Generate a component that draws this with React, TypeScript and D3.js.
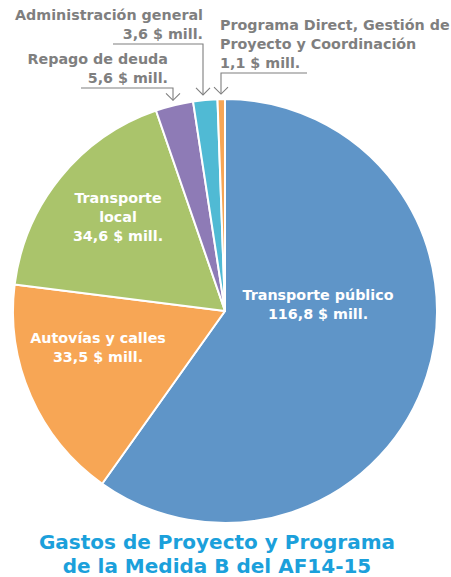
import React from "react";
import * as d3 from "d3";

const categories = [
  "Transporte público",
  "Autovías y calles",
  "Transporte local",
  "Repago de deuda",
  "Administración general",
  "Programa Direct, Gestión de Proyecto y Coordinación",
];
const values = [116.8, 33.5, 34.6, 5.6, 3.6, 1.1];
const valueLabels = ["116,8 $ mill.", "33,5 $ mill.", "34,6 $ mill.", "5,6 $ mill.", "3,6 $ mill.", "1,1 $ mill."];
const colors = ["#5F95C8", "#F7A655", "#AAC46B", "#8E7BB6", "#50BAD4", "#F7A655"];
const titleLines = ["Gastos de Proyecto y Programa", "de la Medida B del AF14-15"];

const W = 451;
const H = 577;
const cx = 225;
const cy = 311;
const R = 212;
const FONT = "'DejaVu Sans', sans-serif";
const GRAY = "#7F7F7F";

export default function App() {
  const data = categories.map((c, i) => ({ cat: c, value: values[i], label: valueLabels[i], color: colors[i] }));
  const pie = d3.pie<any>().sort(null).value((d: any) => d.value);
  const arcs = pie(data);
  const arcGen = d3.arc<any>().innerRadius(0).outerRadius(R);

  const polar = (angle: number, r: number) => [cx + r * Math.sin(angle), cy - r * Math.cos(angle)];
  const mid = (a: any) => (a.startAngle + a.endAngle) / 2;

  const inside = [
    { i: 0, x: 318, y: 300, lines: ["Transporte público", valueLabels[0]] },
    { i: 1, x: 98, y: 343, lines: ["Autovías y calles", valueLabels[1]] },
    { i: 2, x: 118, y: 203, lines: ["Transporte", "local", valueLabels[2]] },
  ];

  const tipR = R + 5;
  const callouts = [
    { i: 3, lineY: 88, lineX0: 81, textX: 168, anchor: "end", lines: ["Repago de deuda", valueLabels[3]], y0: 64 },
    { i: 4, lineY: 44, lineX0: 113, textX: 203, anchor: "end", lines: ["Administración general", valueLabels[4]], y0: 20 },
    { i: 5, lineY: 73, lineX0: 307, textX: 220, anchor: "start", lines: ["Programa Direct, Gestión de", "Proyecto y Coordinación", valueLabels[5]], y0: 30 },
  ];

  return (
    <svg width={W} height={H} style={{ position: "absolute", left: 0, top: 0, background: "#fff" }}>
      <g transform={`translate(${cx},${cy})`}>
        {arcs.map((a, k) => (
          <path key={k} d={arcGen(a) as string} fill={a.data.color} stroke="#fff" strokeWidth={2} strokeLinejoin="round" />
        ))}
      </g>
      {inside.map((l, k) => (
        <text key={k} x={l.x} y={l.y} textAnchor="middle" fill="#fff" fontFamily={FONT} fontWeight={700} fontSize={14.3}>
          {l.lines.map((t, j) => (
            <tspan key={j} x={l.x} dy={j === 0 ? 0 : 19}>{t}</tspan>
          ))}
        </text>
      ))}
      {callouts.map((c, k) => {
        const a = arcs[c.i];
        const [tx, ty] = polar(mid(a), tipR);
        const x = Math.round(tx) - (c.i === 4 ? 2 : 0);
        return (
          <g key={k}>
            <text x={c.textX} y={c.y0} textAnchor={c.anchor as any} fill={GRAY} fontFamily={FONT} fontWeight={700} fontSize={14.3}>
              {c.lines.map((t, j) => (
                <tspan key={j} x={c.textX} dy={j === 0 ? 0 : 19}>{t}</tspan>
              ))}
            </text>
            <path d={`M${c.lineX0},${c.lineY}H${x}V${ty}`} fill="none" stroke={GRAY} strokeWidth={1.1} />
            <path d={`M${x - 7},${ty - 7}L${x},${ty}L${x + 7},${ty - 7}`} fill="none" stroke={GRAY} strokeWidth={1.1} />
          </g>
        );
      })}
      <text x={217} y={549} textAnchor="middle" fill="#1BA0DB" fontFamily={FONT} fontWeight={700} fontSize={20}>
        {titleLines.map((t, j) => (
          <tspan key={j} x={217} dy={j === 0 ? 0 : 24}>{t}</tspan>
        ))}
      </text>
    </svg>
  );
}
